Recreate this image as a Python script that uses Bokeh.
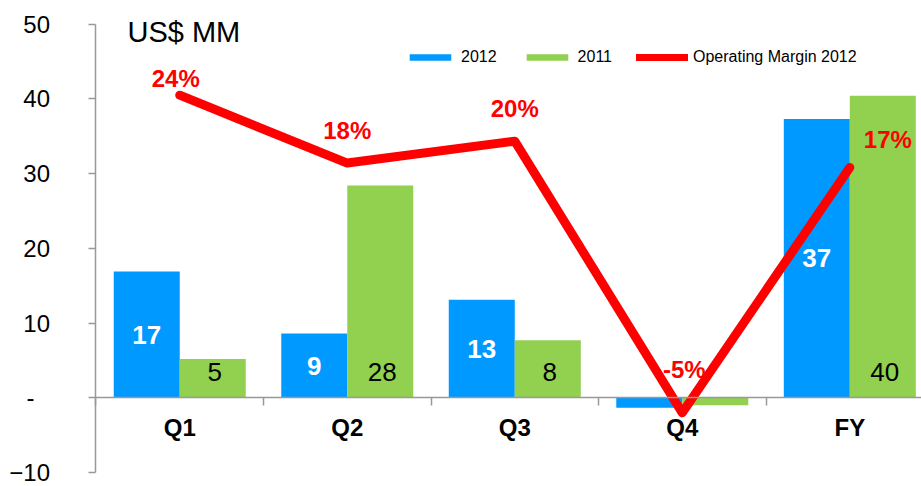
from bokeh.plotting import figure
from bokeh.models import (ColumnDataSource, Range1d, FixedTicker, Legend,
                          LegendItem, Label)
from bokeh.core.properties import value
from bokeh.embed import file_html
from bokeh.resources import INLINE

# ---------------- data ----------------
categories = ["Q1", "Q2", "Q3", "Q4", "FY"]
sales_2012 = [16.9, 8.6, 13.1, -1.35, 37.3]      # US$ MM
sales_2011 = [5.2, 28.4, 7.7, -1.0, 40.4]        # US$ MM
margin_2012 = [24.0, 17.8, 19.8, -5.0, 17.4]     # operating margin, %
y_ticks = [-10, 0, 10, 20, 30, 40, 50]
unit_label = "US$ MM"
zero_label = "-"
legend_labels = ["2012", "2011", "Operating Margin 2012"]

# ---------------- style ----------------
FONT = "Liberation Sans"
BLUE = "#0099FF"
GREEN = "#92D050"
RED = "#FF0000"
AXIS = "#999999"
BAR_W = 0.394
BAR_OFF = 0.197
GREEN_LABEL_Y = 3.46                    # "inside base" label height
PCT_DX = [-4, 0, 0, 2, 38]              # label pixel offsets
PCT_DY = [-17, -33, -33, -43, -28]

n = len(categories)
centers = [i + 0.5 for i in range(n)]

src = ColumnDataSource(dict(
    xc=centers,
    xb=[c - BAR_OFF for c in centers],
    xg=[c + BAR_OFF for c in centers],
    v12=sales_2012,
    v11=sales_2011,
    m=margin_2012,
    yb_lab=[v / 2 for v in sales_2012],
    yg_lab=[GREEN_LABEL_Y] * n,
    tb=[f"{v:.0f}" if v > 0 else "" for v in sales_2012],
    tg=[f"{v:.0f}" if v > 0 else "" for v in sales_2011],
    tm=[f"{v:.0f}%" for v in margin_2012],
    dx=PCT_DX,
    dy=PCT_DY,
))

p = figure(width=921, height=486, output_backend="svg", toolbar_location=None,
           title=None,
           x_range=Range1d(-0.570, 4.928), y_range=Range1d(-11.873, 53.158),
           min_border_left=0, min_border_right=0, min_border_top=0,
           min_border_bottom=0)
p.outline_line_color = None
p.background_fill_color = "white"
p.border_fill_color = "white"
p.xgrid.visible = False
p.ygrid.visible = False

p.extra_y_ranges = {"pct": Range1d(-11.732, 32.645)}

# bars
r_b = p.vbar(x="xb", top="v12", bottom=0, width=BAR_W, source=src,
             fill_color=BLUE, line_color=None)
r_g = p.vbar(x="xg", top="v11", bottom=0, width=BAR_W, source=src,
             fill_color=GREEN, line_color=None)

# bar value labels
p.text(x="xb", y="yb_lab", text="tb", source=src, text_color="white",
       text_font=value(FONT), text_font_size="26px", text_font_style="bold",
       text_align="center", text_baseline="middle")
p.text(x="xg", y="yg_lab", text="tg", source=src, text_color="black",
       text_font=value(FONT), text_font_size="26px",
       text_align="center", text_baseline="middle", x_offset=2)

# thinner copy of the margin line, hidden beneath it, used for the legend
leg_line = p.line(x="xc", y="m", source=src, y_range_name="pct",
                  line_color=RED, line_width=7, line_cap="round",
                  line_join="round")

# margin line
p.line(x="xc", y="m", source=src, y_range_name="pct", line_color=RED,
       line_width=9, line_cap="round", line_join="round")

# margin labels
p.text(x="xc", y="m", text="tm", source=src, y_range_name="pct",
       text_color=RED, text_font=value(FONT), text_font_size="24px",
       text_font_style="bold", text_align="center", text_baseline="middle",
       x_offset="dx", y_offset="dy")

legend = Legend(items=[
    LegendItem(label=legend_labels[0], renderers=[r_b]),
    LegendItem(label=legend_labels[1], renderers=[r_g]),
    LegendItem(label=legend_labels[2], renderers=[leg_line]),
], orientation="horizontal", location=(404, 420),
    glyph_width=52, glyph_height=8, label_standoff=5, spacing=24,
    padding=0, margin=0, border_line_color=None, background_fill_alpha=0,
    label_text_font=FONT, label_text_font_size="16px",
    label_text_color="black")
p.add_layout(legend)

# unit label
p.add_layout(Label(x=0.188, y=48.93, text=unit_label, text_font=FONT,
                   text_font_size="29px", text_color="black",
                   text_baseline="alphabetic"))

# zero tick label of the value axis ("-", set in from the other labels)
p.add_layout(Label(x=-0.415, y=0, text=zero_label, text_font=FONT,
                   text_font_size="24px", text_color="black",
                   text_align="left", text_baseline="middle"))

# x axis at y = 0
xa = p.xaxis[0]
xa.fixed_location = 0
xa.bounds = (0, 4.928)
xa.ticker = FixedTicker(ticks=centers, minor_ticks=list(range(n + 1)))
xa.major_label_overrides = {c: lab for c, lab in zip(centers, categories)}
xa.major_tick_out = 0
xa.major_tick_in = 0
xa.minor_tick_out = 8
xa.minor_tick_in = 0
xa.axis_line_color = AXIS
xa.axis_line_width = 1.5
xa.minor_tick_line_color = AXIS
xa.minor_tick_line_width = 1.5
xa.major_label_standoff = 8
xa.major_label_text_font = FONT
xa.major_label_text_font_size = "24px"
xa.major_label_text_font_style = "bold"
xa.major_label_text_color = "black"

# y axis at x = 0
ya = p.yaxis[0]
ya.fixed_location = 0
ya.ticker = FixedTicker(ticks=y_ticks)
ya.major_label_overrides = {0: ""}
ya.bounds = (-10, 50)
ya.major_tick_out = 7
ya.major_tick_in = 0
ya.minor_tick_line_color = None
ya.axis_line_color = AXIS
ya.axis_line_width = 1.5
ya.major_tick_line_color = AXIS
ya.major_tick_line_width = 1.5
ya.major_label_standoff = 39
ya.major_label_text_font = FONT
ya.major_label_text_font_size = "24px"
ya.major_label_text_color = "black"

open("out.html", "w").write(file_html(p, INLINE))
